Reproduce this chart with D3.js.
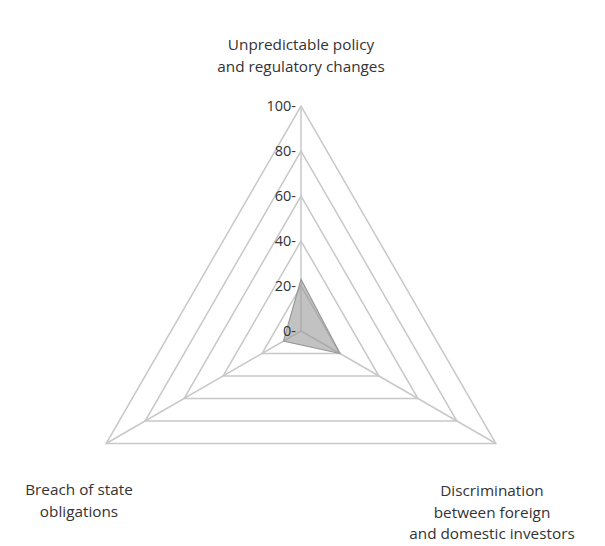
<!DOCTYPE html>
<html>
<head>
<meta charset="utf-8">
<script src="https://cdn.jsdelivr.net/npm/d3@7"></script>
<style>
  body { margin: 0; background: #fff; }
  svg text { font-family: "Open Sans", Lato, sans-serif; fill: #333; }
</style>
</head>
<body>
<svg width="605" height="546"></svg>
<script>
var categories = [
  ["Unpredictable policy", "and regulatory changes"],
  ["Discrimination", "between foreign", "and domestic investors"],
  ["Breach of state", "obligations"]
];
var values = [23, 20, 9];
var ticks = [0, 20, 40, 60, 80, 100];

var svg = d3.select("svg"),
  cx = 301, cy = 331, radius = 225;

var r = d3.scaleLinear().domain([0, 100]).range([0, radius]);
var angle = function(i) { return -Math.PI / 2 + i * 2 * Math.PI / categories.length; };
var point = function(v, i) { return [cx + r(v) * Math.cos(angle(i)), cy + r(v) * Math.sin(angle(i))]; };

var g = svg.append("g");

// grid rings
g.selectAll(".ring")
  .data(ticks.filter(function(t) { return t > 0; }))
  .enter().append("polygon")
  .attr("class", "ring")
  .attr("points", function(t) {
    return categories.map(function(c, i) { return point(t, i).join(","); }).join(" ");
  })
  .attr("fill", "none")
  .attr("stroke", "#c8c8c8")
  .attr("stroke-width", 1.5);

// spokes
g.selectAll(".spoke")
  .data(categories)
  .enter().append("line")
  .attr("class", "spoke")
  .attr("x1", cx).attr("y1", cy)
  .attr("x2", function(c, i) { return point(100, i)[0]; })
  .attr("y2", function(c, i) { return point(100, i)[1]; })
  .attr("stroke", "#c8c8c8")
  .attr("stroke-width", 1.5);

// data
g.append("polygon")
  .attr("points", values.map(function(v, i) { return point(v, i).join(","); }).join(" "))
  .attr("fill", "#999")
  .attr("fill-opacity", 0.6)
  .attr("stroke", "#999")
  .attr("stroke-width", 1.2);

// tick labels
g.selectAll(".tick")
  .data(ticks)
  .enter().append("text")
  .attr("class", "tick")
  .attr("x", cx - 5)
  .attr("y", function(t) { return cy - r(t); })
  .attr("dy", "0.35em")
  .attr("text-anchor", "end")
  .attr("font-size", 14.5)
  .text(function(t) { return t + "-"; });

// category labels
var labelPos = [[301, 50], [492, 496], [79, 495]];
categories.forEach(function(lines, i) {
  var t = svg.append("text")
    .attr("text-anchor", "middle")
    .attr("font-size", 15.3);
  lines.forEach(function(line, j) {
    t.append("tspan")
      .attr("x", labelPos[i][0])
      .attr("y", labelPos[i][1] + j * 21.5)
      .text(line);
  });
});
</script>
</body>
</html>
